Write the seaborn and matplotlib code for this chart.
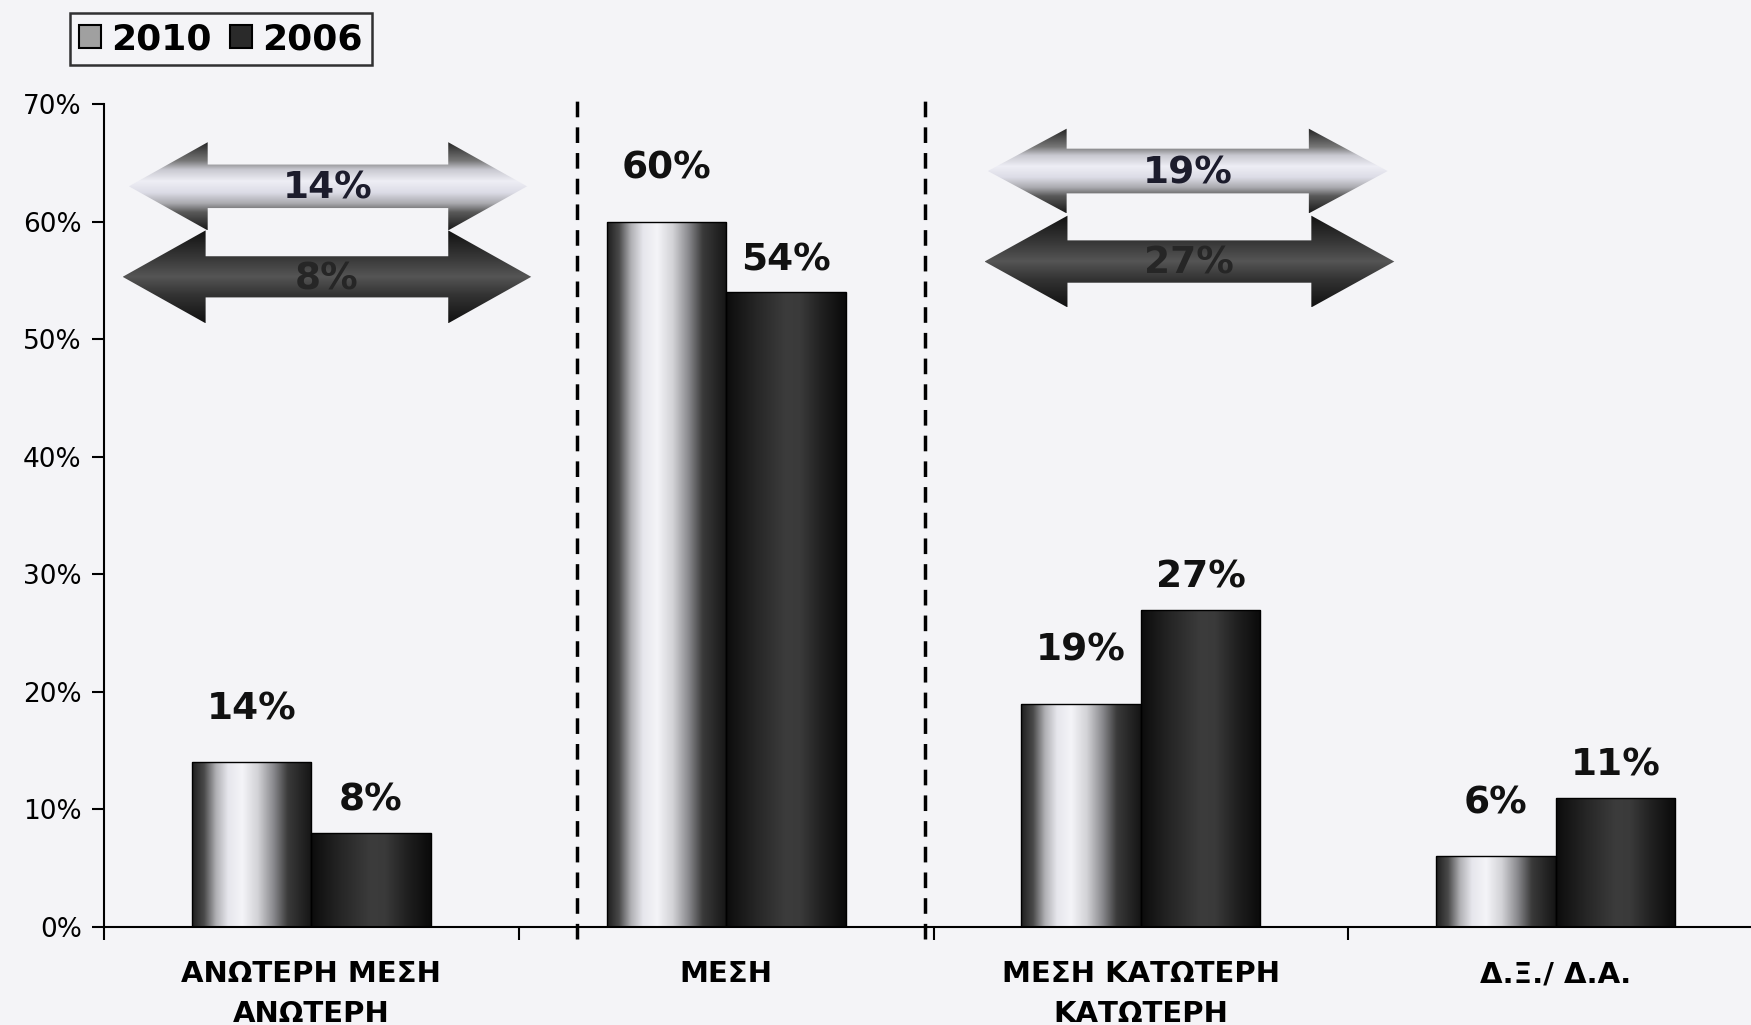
import numpy as np
import pandas as pd
import matplotlib
matplotlib.use("Agg")
import matplotlib.pyplot as plt
import seaborn as sns
from matplotlib.colors import LinearSegmentedColormap
from matplotlib.patches import Polygon, Patch

# Data
categories = ["ΑΝΩΤΕΡΗ ΜΕΣΗ\nΑΝΩΤΕΡΗ", "ΜΕΣΗ", "ΜΕΣΗ ΚΑΤΩΤΕΡΗ\nΚΑΤΩΤΕΡΗ", "Δ.Ξ./ Δ.Α."]
years = ["2010", "2006"]
values_2010 = [14, 60, 19, 6]
values_2006 = [8, 54, 27, 11]
y_ticks = [0, 10, 20, 30, 40, 50, 60, 70]

df = pd.DataFrame({
    "category": categories * 2,
    "year": [years[0]] * len(categories) + [years[1]] * len(categories),
    "value": values_2010 + values_2006,
})

sns.set_style("white")
plt.rcParams["font.family"] = ["DejaVu Sans"]
plt.rcParams["text.color"] = "black"
plt.rcParams["xtick.color"] = "black"
plt.rcParams["ytick.color"] = "black"

bg = "#f4f4f7"
fig = plt.figure(figsize=(17.51, 10.25), dpi=100, facecolor=bg)
ax = fig.add_axes([104 / 1751, 1 - 927 / 1025, 1659 / 1751, 823 / 1025])
ax.set_facecolor("none")

sns.barplot(data=df, x="category", y="value", hue="year", hue_order=years,
            order=categories, width=0.576, gap=0, errorbar=None,
            palette=["#cccccc", "#222222"], edgecolor="black", linewidth=1,
            legend=False, ax=ax)

# cylinder-like shading on the bars
light_cmap = LinearSegmentedColormap.from_list("light", [
    (0, "#1e1e1e"), (0.1, "#4a4a4a"), (0.2, "#b0b0b4"), (0.3, "#e6e6ec"),
    (0.42, "#f4f4f8"), (0.55, "#d2d2d6"), (0.68, "#8a8a8e"), (0.8, "#3a3a3a"),
    (1, "#151515")])
dark_cmap = LinearSegmentedColormap.from_list("dark", [
    (0, "#0c0c0c"), (0.25, "#262626"), (0.5, "#3c3c3c"), (0.62, "#3a3a3a"),
    (0.8, "#202020"), (1, "#0a0a0a")])
grad = np.linspace(0, 1, 256).reshape(1, -1)

for cont, cmap in zip(ax.containers, [light_cmap, dark_cmap]):
    for bar in cont:
        x0, w, h = bar.get_x(), bar.get_width(), bar.get_height()
        im = ax.imshow(grad, cmap=cmap, extent=[x0, x0 + w, 0, h],
                       aspect="auto", zorder=2.5)
        im.set_clip_path(bar)
        bar.set_facecolor("none")
        bar.set_zorder(3)

# value labels
for cont, vals, off in zip(ax.containers, [values_2010, values_2006], [38, 23]):
    for bar, v in zip(cont, vals):
        ax.annotate(f"{v}%", (bar.get_x() + bar.get_width() / 2, bar.get_height()),
                    xytext=(0, off), textcoords="offset points", ha="center",
                    va="center", fontsize=27, fontweight="bold", color="#111111")

# double-headed comparison arrows
light_v = LinearSegmentedColormap.from_list("lv", [
    (0, "#1a1a1a"), (0.2, "#5a5a5a"), (0.3, "#aaaaaf"), (0.42, "#dcdce6"),
    (0.55, "#eeeef5"), (0.68, "#c8c8d0"), (0.78, "#777777"), (1, "#222222")])
dark_v = LinearSegmentedColormap.from_list("dv", [
    (0, "#111111"), (0.3, "#333333"), (0.5, "#555555"), (0.7, "#383838"),
    (1, "#111111")])
vgrad = np.linspace(0, 1, 256).reshape(-1, 1)


def double_arrow(x0, x1, yc, body_h, head_h, head_len, cmap, label, color):
    pts = [(x0, yc), (x0 + head_len, yc + head_h), (x0 + head_len, yc + body_h),
           (x1 - head_len, yc + body_h), (x1 - head_len, yc + head_h), (x1, yc),
           (x1 - head_len, yc - head_h), (x1 - head_len, yc - body_h),
           (x0 + head_len, yc - body_h), (x0 + head_len, yc - head_h)]
    poly = Polygon(pts, closed=True, facecolor="none", edgecolor="none", zorder=4)
    ax.add_patch(poly)
    im = ax.imshow(vgrad, cmap=cmap, extent=[x0, x1, yc - head_h, yc + head_h],
                   aspect="auto", origin="lower", zorder=3.9)
    im.set_clip_path(poly)
    ax.text((x0 + x1) / 2, yc - 0.2, label, ha="center", va="center",
            fontsize=27, fontweight="bold", color=color, zorder=5)


double_arrow(-0.44, 0.52, 63.0, 1.85, 3.75, 0.19, light_v, f"{values_2010[0]}%", "#1c1c2c")
double_arrow(-0.455, 0.53, 55.3, 1.75, 3.95, 0.2, dark_v, f"{values_2006[0]}%", "#262626")
double_arrow(1.631, 2.595, 64.3, 1.9, 3.6, 0.19, light_v, f"{values_2010[2]}%", "#1c1c2c")
double_arrow(1.623, 2.611, 56.6, 1.8, 3.9, 0.2, dark_v, f"{values_2006[2]}%", "#262626")

# dashed dividers
ax.vlines([0.64, 1.48], -1, 70.5, colors="black", linestyles=(0, (4.5, 2.9)),
          linewidth=2.5, clip_on=False, zorder=4)

ax.set_xlim(-0.5, 3.5)
ax.set_ylim(0, 70)
ax.set_yticks(y_ticks)
ax.set_yticklabels([f"{t}%" for t in y_ticks], fontsize=19)
ax.set_xticks(range(len(categories)))
ax.set_xticklabels(categories, fontsize=21, fontweight="bold", linespacing=1.55)
ax.set_xticks([-0.5, 0.5, 1.5, 2.5], minor=True)
ax.tick_params(axis="x", which="major", bottom=True, length=0, pad=24)
ax.tick_params(axis="x", which="minor", bottom=True, length=9, width=1.5,
               direction="out", color="black")
ax.tick_params(axis="y", left=True, length=9, width=1.5, direction="out",
               color="black", pad=7)
ax.set_xlabel("")
ax.set_ylabel("")
sns.despine(ax=ax)
for s in ["left", "bottom"]:
    ax.spines[s].set_color("black")
    ax.spines[s].set_linewidth(1.5)

handles = [Patch(facecolor="#a0a0a0", edgecolor="black", linewidth=1.5),
           Patch(facecolor="#2a2a2a", edgecolor="black", linewidth=1.5)]
leg = fig.legend(handles, years, loc="upper left", bbox_to_anchor=(70 / 1751, 1 - 13 / 1025),
                 ncol=2, frameon=True, fancybox=False, edgecolor="black", facecolor=bg,
                 prop={"weight": "bold", "size": 26}, handlelength=0.6, handleheight=0.6,
                 handletextpad=0.3, columnspacing=0.5, borderpad=0.25, borderaxespad=0)
leg.get_frame().set_linewidth(1.8)

fig.savefig("out.png", dpi=100, facecolor=bg)
